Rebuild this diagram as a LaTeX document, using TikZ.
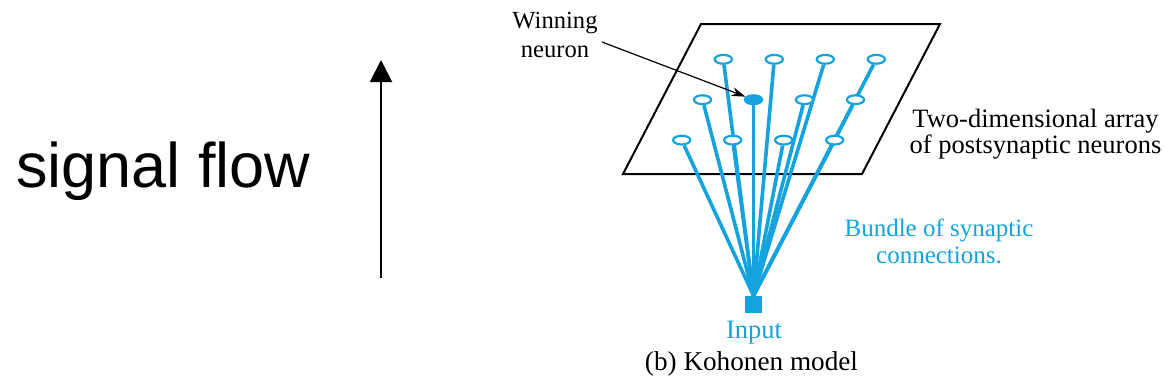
\documentclass[tikz,border=0pt]{standalone}
\usepackage{fontspec}
\setmainfont{Liberation Serif}
\newfontfamily\flowfont{Liberation Sans}
\usetikzlibrary{arrows.meta,positioning,shapes.geometric,backgrounds}
\definecolor{syncyan}{RGB}{20,163,222}

\begin{document}
\begin{tikzpicture}[x=0.5pt, y=-0.5pt,
  neuron/.style={ellipse, draw=syncyan, fill=white, line width=1.1pt, inner sep=0pt, minimum width=8.6pt, minimum height=4.4pt},
  winner/.style={neuron, fill=syncyan},
  link/.style={draw=syncyan, line width=1.8pt},
  pointer/.style={-{Stealth[length=7pt, width=4.5pt]}, line width=0.6pt},
  lbl/.style={align=center, inner sep=0pt, font=\fontsize{13.25}{13}\selectfont}]
\useasboundingbox (0,0) rectangle (1164,388);

% direction of the signal
\node[anchor=base west, inner sep=0pt, font=\flowfont\fontsize{31.5}{36}\selectfont] (flow) at (16,187) {signal flow};
\coordinate (up0) at (381,278);
\coordinate (up1) at (381,60);
\draw[line width=1pt, -{Triangle[length=11pt, width=11pt]}] (up0) -- (up1);

% sheet of output neurons
\coordinate (s1) at (623,174);
\coordinate (s2) at (862,174);
\coordinate (s3) at (940,24);
\coordinate (s4) at (701,24);

\node[fill=syncyan, minimum size=8.5pt, inner sep=0pt] (inp) at (753.5,304.5) {};

\foreach \i/\j/\kind in {0/0/neuron, 1/0/neuron, 2/0/neuron, 3/0/neuron,
                         0/1/neuron, 1/1/winner, 2/1/neuron, 3/1/neuron,
                         0/2/neuron, 1/2/neuron, 2/2/neuron, 3/2/neuron}
  \node[\kind] (n\i\j) at (723.3+51*\i-20.8*\j, 59.3+40.4*\j) {};

\begin{pgfonlayer}{background}
\draw[line width=1pt] (s1) -- (s2) -- (s3) -- (s4) -- cycle;
\foreach \i in {0,...,3}
  \foreach \j in {0,1,2}
    \draw[link] (inp.north) -- (n\i\j);
\end{pgfonlayer}

% labels (base = last line)
\node[lbl, anchor=base, font=\fontsize{12.3}{14.5}\selectfont] (win) at (555,57) {Winning\\neuron};
\coordinate (ptr) at (602,42);
\draw[pointer] (ptr) -- (n11);
\node[lbl, anchor=base] (sheet) at (1035.5,153) {Two-dimensional array\\of postsynaptic neurons};
\node[lbl, anchor=base, text=syncyan, font=\fontsize{12.5}{13.5}\selectfont] (bundle) at (939,263) {Bundle of synaptic\\connections.};
\node[lbl, anchor=base, text=syncyan] (inlbl) at (754,338) {Input};
\node[lbl, anchor=base, font=\fontsize{13.6}{14}\selectfont] (cap) at (751.5,370) {(b) Kohonen model};
\end{tikzpicture}
\end{document}
